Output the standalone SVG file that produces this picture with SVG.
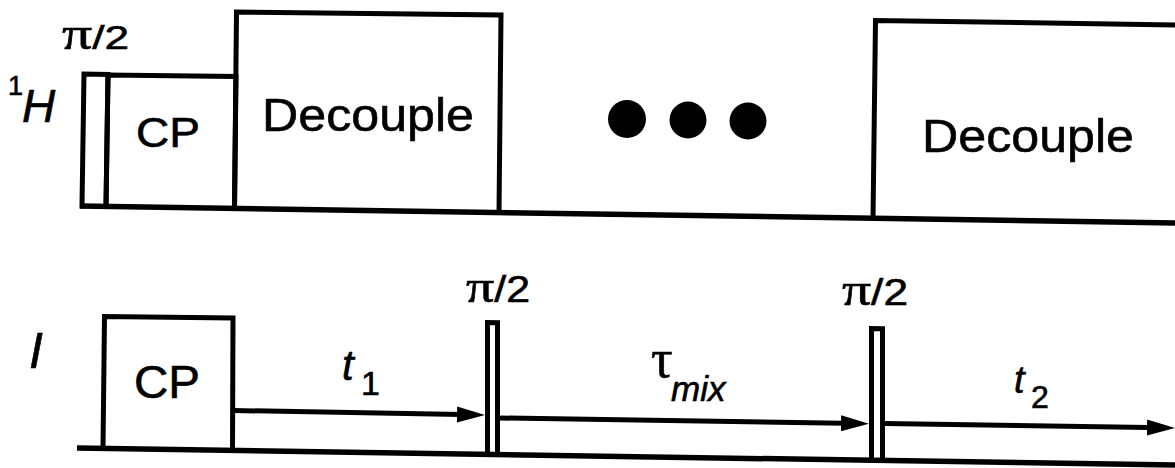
<svg xmlns="http://www.w3.org/2000/svg" width="1175" height="468" viewBox="0 0 1175 468">
<style>
.ln{fill:none;stroke:#000;stroke-width:5;stroke-linejoin:miter;stroke-linecap:square}
.base{fill:none;stroke:#000;stroke-width:5.5}
.arr{fill:none;stroke:#000;stroke-width:5;marker-end:url(#ah)}
.sans{font-family:"Liberation Sans",Arial,sans-serif;fill:#000;stroke:#000;stroke-width:0.6}
.serif{font-family:"Liberation Serif","Times New Roman",serif}
.it{font-style:italic}
</style>
<defs>
<marker id="ah" markerUnits="userSpaceOnUse" viewBox="0 0 30 18" markerWidth="30" markerHeight="18" refX="18" refY="9" orient="auto">
<path d="M0,1 L28,9 L0,17 Z" fill="#000"/>
</marker>
</defs>
<rect width="1175" height="468" fill="#fff"/>

<g id="label-1H">
<text class="sans"><tspan x="8" y="95" font-size="27">1</tspan><tspan x="22" y="122" font-size="46" class="it">H</tspan></text>
</g>
<g id="h-pulse">
<polyline class="ln" points="82,206 84,74 108,74.4 106,206.5"/>
<text class="sans" x="62" y="49" font-size="34" textLength="67" lengthAdjust="spacingAndGlyphs"><tspan class="serif" font-size="46">π</tspan>/2</text>
</g>
<g id="h-cp">
<polyline class="ln" points="106,206.5 108,75 236,76.4 234.5,208"/>
<text class="sans" x="168" y="147" font-size="42" text-anchor="middle" textLength="64" lengthAdjust="spacingAndGlyphs">CP</text>
</g>
<g id="h-decouple1">
<polyline class="ln" points="234.5,208.4 236.5,12 501,15 499,212.5"/>
<text class="sans" x="368" y="131" font-size="47" text-anchor="middle" textLength="212" lengthAdjust="spacingAndGlyphs">Decouple</text>
</g>
<g id="h-dots">
<circle cx="627" cy="119" r="19"/>
<circle cx="688" cy="120" r="18.5"/>
<circle cx="748" cy="121" r="18.5"/>
</g>
<g id="h-decouple2">
<polyline class="ln" points="873,218.3 875.5,20.5 1182,25"/>
<text class="sans" x="1028" y="152" font-size="47" text-anchor="middle" textLength="212" lengthAdjust="spacingAndGlyphs">Decouple</text>
</g>

<g id="label-I">
<text class="sans it" x="29" y="368" font-size="50">I</text>
</g>
<g id="i-cp">
<polyline class="ln" points="103,448.4 104.5,316.5 233,318 232.5,450.4"/>
<text class="sans" x="167" y="398" font-size="46" text-anchor="middle" textLength="66" lengthAdjust="spacingAndGlyphs">CP</text>
</g>
<g id="i-pulse1">
<polyline class="ln" points="487.5,454.4 487.5,322.5 497.5,322.7 497.5,454.5"/>
<text class="sans" x="466" y="302" font-size="36" textLength="64" lengthAdjust="spacingAndGlyphs"><tspan class="serif" font-size="47">π</tspan>/2</text>
</g>
<g id="i-pulse2">
<polyline class="ln" points="871.5,460.3 871.5,328.5 882.5,328.7 882.5,460.5"/>
<text class="sans" x="842" y="305" font-size="36" textLength="66" lengthAdjust="spacingAndGlyphs"><tspan class="serif" font-size="47">π</tspan>/2</text>
</g>

<g id="connectors">
<line class="base" x1="80" y1="206" x2="1175" y2="223"/>
<line class="base" x1="77" y1="448" x2="1175" y2="465"/>
<line class="arr" x1="233" y1="410.5" x2="475" y2="414.8"/>
<line class="arr" x1="500" y1="418" x2="859" y2="423.5"/>
<line class="arr" x1="885" y1="423.5" x2="1165" y2="427.8"/>
<text class="sans"><tspan x="342" y="380" font-size="42" class="it">t</tspan><tspan x="361" y="395" font-size="34">1</tspan></text>
<text class="sans"><tspan class="serif" x="651" y="377" font-size="54">τ</tspan><tspan x="671" y="401" font-size="35" class="it">mix</tspan></text>
<text class="sans"><tspan x="1014" y="393" font-size="38" class="it">t</tspan><tspan x="1031" y="408" font-size="32">2</tspan></text>
</g>
</svg>
